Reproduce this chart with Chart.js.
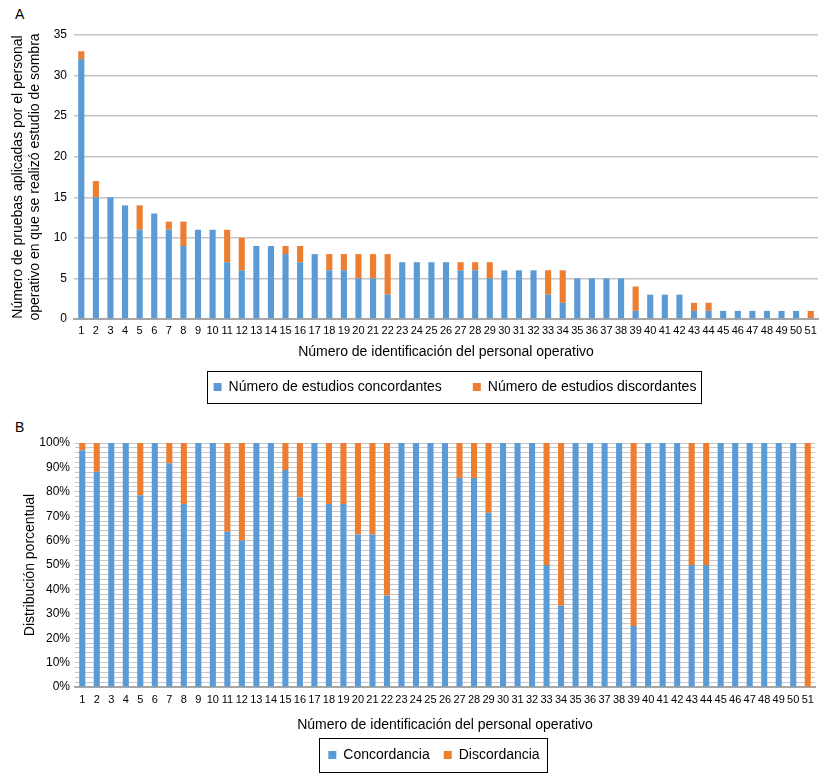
<!DOCTYPE html>
<html>
<head>
<meta charset="utf-8">
<script src="https://cdn.jsdelivr.net/npm/chart.js@4.4.1/dist/chart.umd.min.js"></script>
<style>
  html, body { margin: 0; padding: 0; background: #fff; }
  body { width: 831px; height: 777px; position: relative; overflow: hidden; font-family: "Liberation Sans", Arial, sans-serif; }
  .panel { position: absolute; font-size: 14px; line-height: 14px; color: #000; }
  .wrap { position: absolute; left: 0; width: 831px; }
</style>
</head>
<body>
<div class="panel" style="left:15px; top:7px;">A</div>
<div class="panel" style="left:15px; top:420px;">B</div>
<div class="wrap" style="top:0; height:410px;"><canvas id="chartA"></canvas></div>
<div class="wrap" style="top:410px; height:367px;"><canvas id="chartB"></canvas></div>
<script>
// ---------- DATA ----------
const ids = ['1','2','3','4','5','6','7','8','9','10','11','12','13','14','15','16','17','18','19','20','21','22','23','24','25','26','27','28','29','30','31','32','33','34','35','36','37','38','39','40','41','42','43','44','45','46','47','48','49','50','51'];

const concordantes = [32,15,15,14,11,13,11,9,11,11,7,6,9,9,8,7,8,6,6,5,5,3,7,7,7,7,6,6,5,6,6,6,3,2,5,5,5,5,1,3,3,3,1,1,1,1,1,1,1,1,0];
const discordantes = [1,2,0,0,3,0,1,3,0,0,4,4,0,0,1,2,0,2,2,3,3,5,0,0,0,0,1,1,2,0,0,0,3,4,0,0,0,0,3,0,0,0,1,1,0,0,0,0,0,0,1];

const pctConcordancia = [97,88.2,100,100,78.6,100,91.7,75,100,100,63.6,60,100,100,88.9,77.8,100,75,75,62.5,62.5,37.5,100,100,100,100,85.7,85.7,71.4,100,100,100,50,33.3,100,100,100,100,25,100,100,100,50,50,100,100,100,100,100,100,0];
const pctDiscordancia = [3,11.8,0,0,21.4,0,8.3,25,0,0,36.4,40,0,0,11.1,22.2,0,25,25,37.5,37.5,62.5,0,0,0,0,14.3,14.3,28.6,0,0,0,50,66.7,0,0,0,0,75,0,0,0,50,50,0,0,0,0,0,0,100];

const yTicksA = [0,5,10,15,20,25,30,35];

// ---------- STYLE ----------
const BLUE = '#5B9BD5';
const ORANGE = '#ED7D31';
const FONT = "'Liberation Sans', Arial, Helvetica, sans-serif";
Chart.defaults.font.family = FONT;
Chart.defaults.color = '#000';
Chart.defaults.animation = false;

// Shift legend to desired centre and draw a frame around it
const legendFrame = {
  id: 'legendFrame',
  afterLayout(chart, args, o) {
    const lg = chart.legend;
    if (!lg || !o || o.cx === undefined) return;
    const pad = lg.options.labels.padding;
    const fs = lg.options.labels.font.size;
    const dx = o.cx - (lg.left + lg.right) / 2;
    const newTop = o.cy - pad - fs / 2;
    const dy = newTop - lg.top;
    lg.left += dx; lg.right += dx;
    lg.top += dy; lg.bottom += dy;
  },
  afterDraw(chart, args, o) {
    const lg = chart.legend;
    if (!lg || !lg.legendHitBoxes || !lg.legendHitBoxes.length) return;
    const hb = lg.legendHitBoxes;
    const l = Math.min(...hb.map(b => b.left)) - o.padL;
    const r = Math.max(...hb.map(b => b.left + b.width)) + o.padR;
    const t = Math.min(...hb.map(b => b.top)) - o.padV;
    const b = Math.max(...hb.map(b => b.top + b.height)) + o.padV;
    const ctx = chart.ctx;
    ctx.save();
    ctx.strokeStyle = '#000';
    ctx.lineWidth = 1;
    ctx.strokeRect(Math.round(l) + 0.5, Math.round(t) + 0.5, Math.round(r - l), Math.round(b - t));
    ctx.restore();
  }
};

// ---------- CHART A ----------
new Chart(document.getElementById('chartA'), {
  type: 'bar',
  data: {
    labels: ids,
    datasets: [
      { label: 'Número de estudios concordantes', data: concordantes, backgroundColor: BLUE, barPercentage: 0.42, categoryPercentage: 1 },
      { label: 'Número de estudios discordantes', data: discordantes, backgroundColor: ORANGE, barPercentage: 0.42, categoryPercentage: 1 }
    ]
  },
  options: {
    responsive: true,
    maintainAspectRatio: false,
    layout: { padding: { top: 35, right: 13, bottom: 0, left: 0 } },
    plugins: {
      tooltip: { enabled: false },
      legend: {
        position: 'bottom',
        maxHeight: 48,
        labels: { boxWidth: 8, boxHeight: 8, padding: 31, font: { size: 14 }, color: '#000' }
      },
      legendFrame: { cx: 455, cy: 387, padL: 7, padR: 4, padV: 9 }
    },
    scales: {
      x: {
        stacked: true,
        grid: { display: false, drawTicks: false },
        border: { display: true, color: '#A6A6A6', width: 2 },
        ticks: { autoSkip: false, maxRotation: 0, minRotation: 0, padding: 5, font: { size: 11 }, color: '#000' },
        title: { display: true, text: 'Número de identificación del personal operativo', font: { size: 14 }, color: '#000', padding: { top: 0, bottom: 1 } },
        afterFit(s) { s.height = 43; }
      },
      y: {
        stacked: true,
        min: 0, max: 35,
        afterBuildTicks(s) { s.ticks = yTicksA.map(v => ({ value: v })); },
        grid: { color: '#C4C4C4', lineWidth: 1.5, drawTicks: false },
        border: { display: false },
        ticks: { padding: 7, font: { size: 12 }, color: '#000' },
        title: { display: true, text: ['Número de pruebas aplicadas por el personal', 'operativo en que se realizó estudio de sombra'], font: { size: 14 }, color: '#000', padding: { top: 10, bottom: 0 } },
        afterFit(s) { s.width = 74; }
      }
    }
  },
  plugins: [legendFrame]
});

// ---------- CHART B ----------
new Chart(document.getElementById('chartB'), {
  type: 'bar',
  data: {
    labels: ids,
    datasets: [
      { label: 'Concordancia', data: pctConcordancia, backgroundColor: BLUE, barPercentage: 0.42, categoryPercentage: 1 },
      { label: 'Discordancia', data: pctDiscordancia, backgroundColor: ORANGE, barPercentage: 0.42, categoryPercentage: 1 }
    ]
  },
  options: {
    responsive: true,
    maintainAspectRatio: false,
    layout: { padding: { top: 33, right: 16, bottom: 0, left: 0 } },
    plugins: {
      tooltip: { enabled: false },
      legend: {
        position: 'bottom',
        labels: { boxWidth: 8, boxHeight: 8, padding: 14, font: { size: 14 }, color: '#000' }
      },
      legendFrame: { cx: 434, cy: 345, padL: 9, padR: 8, padV: 10 }
    },
    scales: {
      x: {
        stacked: true,
        grid: { display: false, drawTicks: false },
        border: { display: true, color: '#A6A6A6', width: 2 },
        ticks: { autoSkip: false, maxRotation: 0, minRotation: 0, padding: 6, font: { size: 11 }, color: '#000' },
        title: { display: true, text: 'Número de identificación del personal operativo', font: { size: 14 }, color: '#000', padding: { top: 0, bottom: 5 } },
        afterFit(s) { s.height = 52; }
      },
      y: {
        stacked: true,
        min: 0, max: 100,
        grid: { color: '#C8C8C8', lineWidth: 1, drawTicks: false },
        border: { display: false },
        ticks: { stepSize: 2, autoSkip: false, padding: 5, font: { size: 12 }, color: '#000',
          callback: v => (v % 10 === 0 ? v + '%' : '') },
        title: { display: true, text: 'Distribución porcentual', font: { size: 14 }, color: '#000', padding: { top: 22, bottom: 0 } },
        afterFit(s) { s.width = 75; }
      }
    }
  },
  plugins: [legendFrame]
});
</script>
</body>
</html>
